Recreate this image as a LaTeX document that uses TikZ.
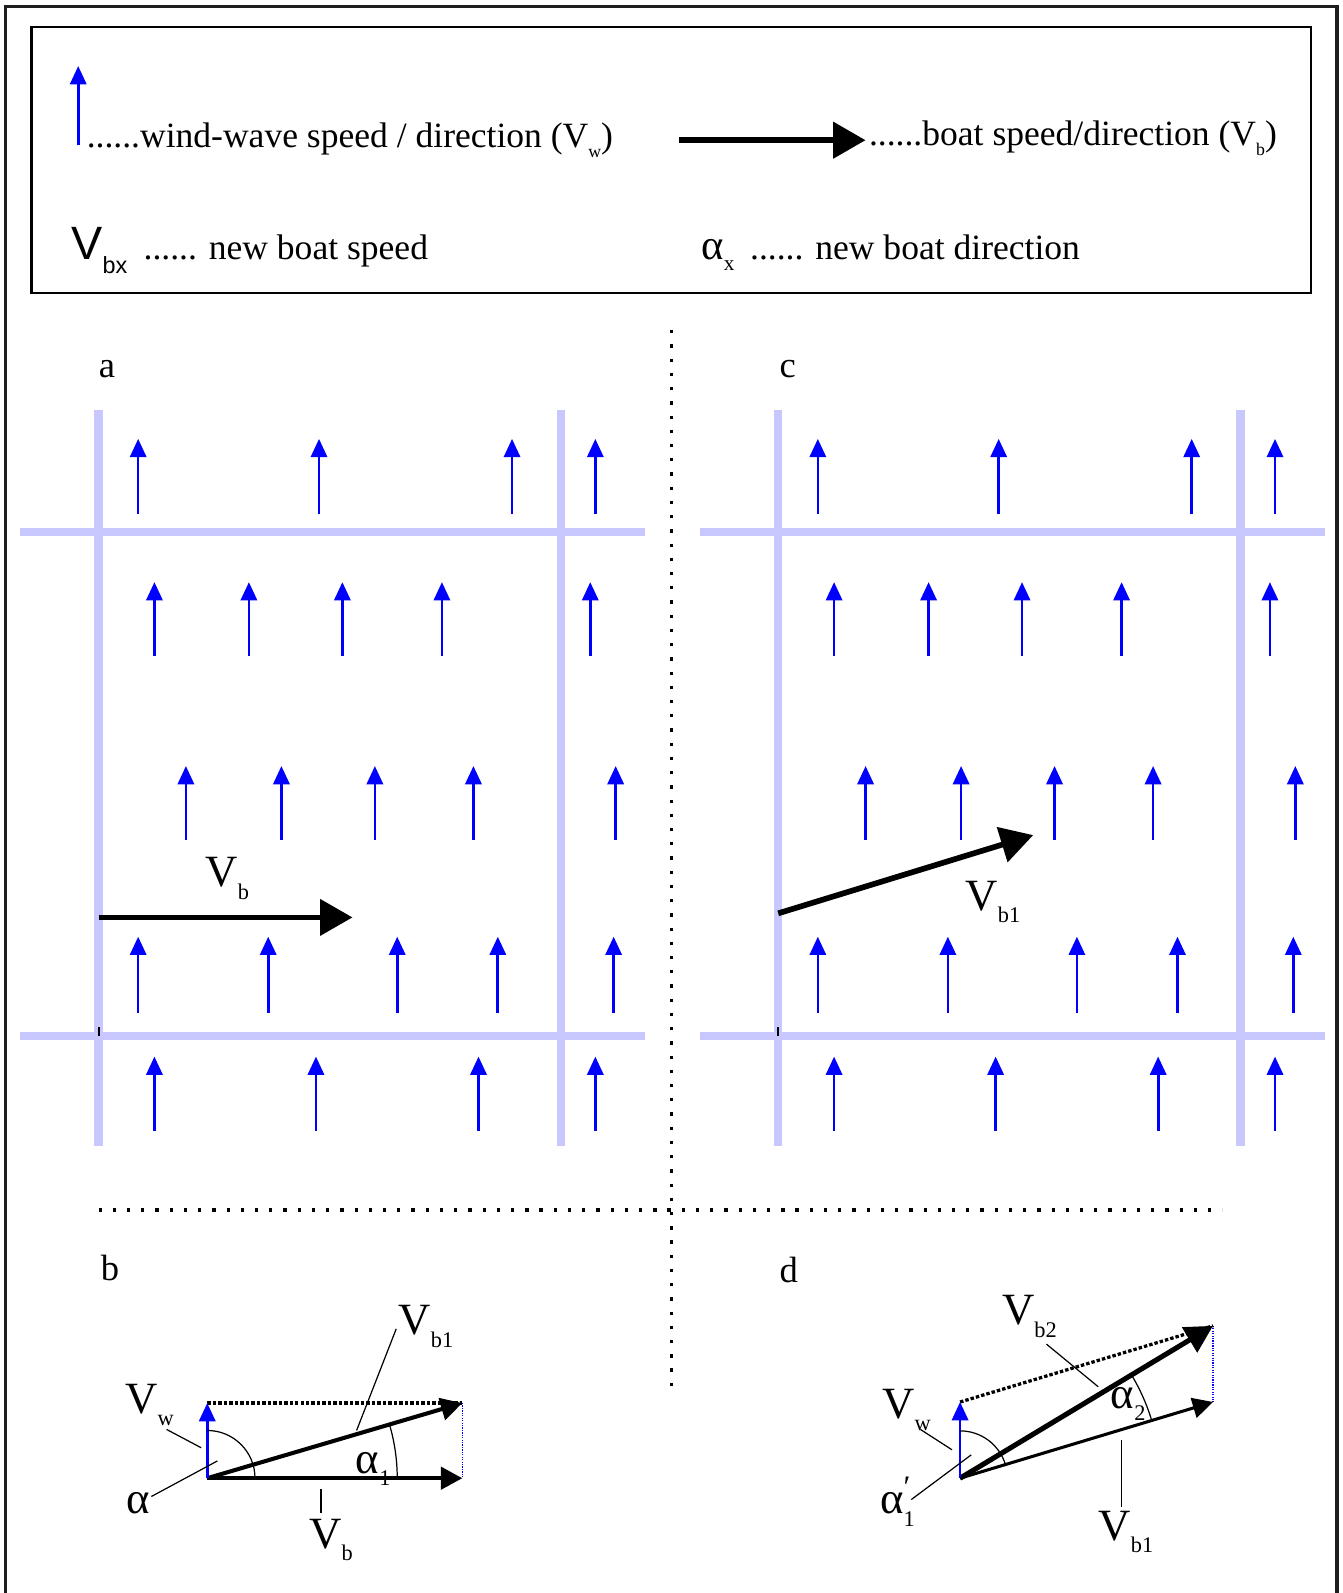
\documentclass[tikz,border=0pt]{standalone}
\usepackage{graphicx}
\usepackage{fontspec}
\setmainfont{Liberation Serif}
\newfontfamily\sansfam{Liberation Sans}
\usetikzlibrary{arrows.meta}
\definecolor{wave}{RGB}{0,0,255}
\definecolor{lane}{RGB}{200,200,255}
\definecolor{frame}{RGB}{30,30,30}
\newcommand{\lo}[1]{\raisebox{-0.6ex}{\scalebox{0.5}{#1}}}

\begin{document}
\begin{tikzpicture}[x=0.5pt,y=0.5pt,
    wind/.style={wave,line width=1.3pt,-{Triangle[length=9pt,width=8pt]}},
    lanes/.style={lane,line width=4pt},
    boat/.style={line width=2.8pt,-{Triangle[length=16pt,width=17.5pt]}},
    vec/.style={line width=1.7pt,-{Triangle[length=10.5pt,width=11pt]}},
    sepline/.style={line width=1.6pt,dash pattern=on 1.6pt off 5.4pt},
    sumline/.style={line width=1.6pt,dash pattern=on 1.7pt off 1pt},
    tipline/.style={wave,line width=0.6pt,dash pattern=on 0.6pt off 0.6pt},
    lead/.style={line width=0.6pt},
    leg/.style={inner sep=0pt,anchor=base west,font=\fontsize{17.5}{21}\selectfont},
    lbl/.style={inner sep=0pt,anchor=base west,font=\fontsize{22}{26}\selectfont},
    panel/.style={inner sep=0pt,anchor=base west,font=\fontsize{18}{22}\selectfont}]
\useasboundingbox (0,0) rectangle (1321,-1568);
% frame and legend
\draw[frame,line width=1.5pt] (5,-1568) -- (5,-6) -- (1316,-6) -- (1316,-1568);
\draw[line width=1pt] (31,-27) rectangle (1290,-288);
\draw[wind] (77,-143) -- (77,-65);
\node[leg] (legw) at (85,-145) {......wind-wave speed / direction (V\lo{w})};
\draw[boat,line width=3pt] (668,-138) -- (852,-138);
\node[leg] (legb) at (855,-143) {......boat speed/direction (V\lo{b})};
\node[leg,font=\fontsize{23}{27}\sansfam] (legv) at (70,-255) {V\lo{bx}};
\node[leg] (legvt) at (141,-255) {...... new boat speed};
\node[leg,font=\fontsize{21}{25}\selectfont] (lega) at (690,-255) {α\lo{x}};
\node[leg] (legat) at (738,-255) {...... new boat direction};
% separators
\draw[sepline] (661,-325) -- (661,-1370);
\draw[sepline] (97,-1191) -- (1203,-1191);
% panels a and c
\node[panel] (la) at (97,-372) {a};
\node[panel] (lc) at (767,-372) {c};
\foreach \dx in {0,669}{
\begin{scope}[shift={(\dx,0)}]
  \draw[lanes] (97,-404) -- (97,-1128);
  \draw[lanes] (552,-404) -- (552,-1128);
  \draw[lanes] (20,-524) -- (635,-524);
  \draw[lanes] (20,-1020) -- (635,-1020);
  \draw[line width=1pt] (97,-1011) -- (97,-1020);
  \foreach \x in {136,314,504,586} \draw[wind] (\x,-506) -- (\x,-432);
  \foreach \x in {152,245,337,435,581} \draw[wind] (\x,-646) -- (\x,-573);
  \foreach \x in {183,277,369,466,606} \draw[wind] (\x,-827) -- (\x,-754);
  \foreach \x in {136,264,391,490,604} \draw[wind] (\x,-997) -- (\x,-922);
  \foreach \x in {152,311,471,586} \draw[wind] (\x,-1113) -- (\x,-1040);
\end{scope}}
\coordinate (aS) at (97,-903);
\coordinate (aE) at (347,-903);
\draw[boat] (aS) -- (aE);
\node[lbl] (aVb) at (202,-873) {V\lo{b}};
\coordinate (cS) at (766,-899);
\coordinate (cE) at (1017,-822);
\draw[boat] (cS) -- (cE);
\node[lbl] (cVb) at (950,-896) {V\lo{b1}};
% panel b
\node[panel] (lb) at (99,-1260) {b};
\coordinate (bO) at (204,-1455);
\coordinate (bB) at (455,-1455);
\coordinate (bW) at (204,-1381);
\coordinate (bR) at (455,-1381);
\draw[sumline] (bW) -- (bR);
\draw[tipline] (bR) -- (bB);
\draw[vec] (bO) -- (bB);
\draw[vec,line width=2pt] (bO) -- (bR);
\draw[wind] (bO) -- (bW);
\draw[lead] ([shift={(0:47)}]bO) arc[start angle=0,end angle=90,radius=47];
\draw[lead] ([shift={(0:187)}]bO) arc[start angle=0,end angle=16.4,radius=187];
\node[lbl] (bVwl) at (123,-1391) {V\lo{w}};
\coordinate (bVw1) at (164,-1407);
\coordinate (bVw2) at (198,-1425);
\draw[lead] (bVw1) -- (bVw2);
\node[lbl] (bal) at (124,-1490) {α};
\coordinate (ba1) at (149,-1473);
\coordinate (ba2) at (214,-1438);
\draw[lead] (ba1) -- (ba2);
\node[lbl] (ba1l) at (350,-1450) {α\lo{1}};
\node[lbl] (bVb1l) at (392,-1314) {V\lo{b1}};
\coordinate (bv1a) at (390,-1308);
\coordinate (bv1b) at (351,-1408);
\draw[lead] (bv1a) -- (bv1b);
\node[lbl] (bVbl) at (304,-1524) {V\lo{b}};
\coordinate (bvba) at (316,-1466);
\coordinate (bvbb) at (316,-1489);
\draw[lead] (bvba) -- (bvbb);
% panel d
\node[panel] (ld) at (767,-1262) {d};
\coordinate (dO) at (945,-1455);
\coordinate (dW) at (945,-1380);
\coordinate (dB) at (1194,-1380);
\coordinate (dR) at (1194,-1305);
\draw[sumline] (dW) -- (dR);
\draw[tipline] (dR) -- (dB);
\draw[vec,line width=1.5pt,-{Triangle[length=10pt,width=10pt]}] (dO) -- (dB);
\draw[vec,line width=2.5pt,-{Triangle[length=13.5pt,width=14pt]}] (dO) -- (dR);
\draw[wind] (dO) -- (dW);
\draw[lead] ([shift={(16.8:46.6)}]dO) arc[start angle=16.8,end angle=90,radius=46.6];
\draw[lead] ([shift={(16.8:197)}]dO) arc[start angle=16.8,end angle=31.1,radius=197];
\node[lbl] (dVwl) at (868,-1396) {V\lo{w}};
\coordinate (dVw1) at (906,-1407);
\coordinate (dVw2) at (937,-1427);
\draw[lead] (dVw1) -- (dVw2);
\node[lbl] (da1l) at (866,-1490) {α\rlap{\raisebox{0.8ex}{\scalebox{0.7}{′}}}\lo{1}};
\coordinate (da1) at (897,-1476);
\coordinate (da2) at (956,-1432);
\draw[lead] (da1) -- (da2);
\node[lbl] (da2l) at (1093,-1386) {α\lo{2}};
\node[lbl] (dVb2l) at (986,-1304) {V\lo{b2}};
\coordinate (dv2a) at (1030,-1323);
\coordinate (dv2b) at (1081,-1365);
\draw[lead] (dv2a) -- (dv2b);
\node[lbl] (dVb1l) at (1081,-1516) {V\lo{b1}};
\coordinate (dv1a) at (1104,-1417);
\coordinate (dv1b) at (1104,-1483);
\draw[lead] (dv1a) -- (dv1b);
\end{tikzpicture}
\end{document}
